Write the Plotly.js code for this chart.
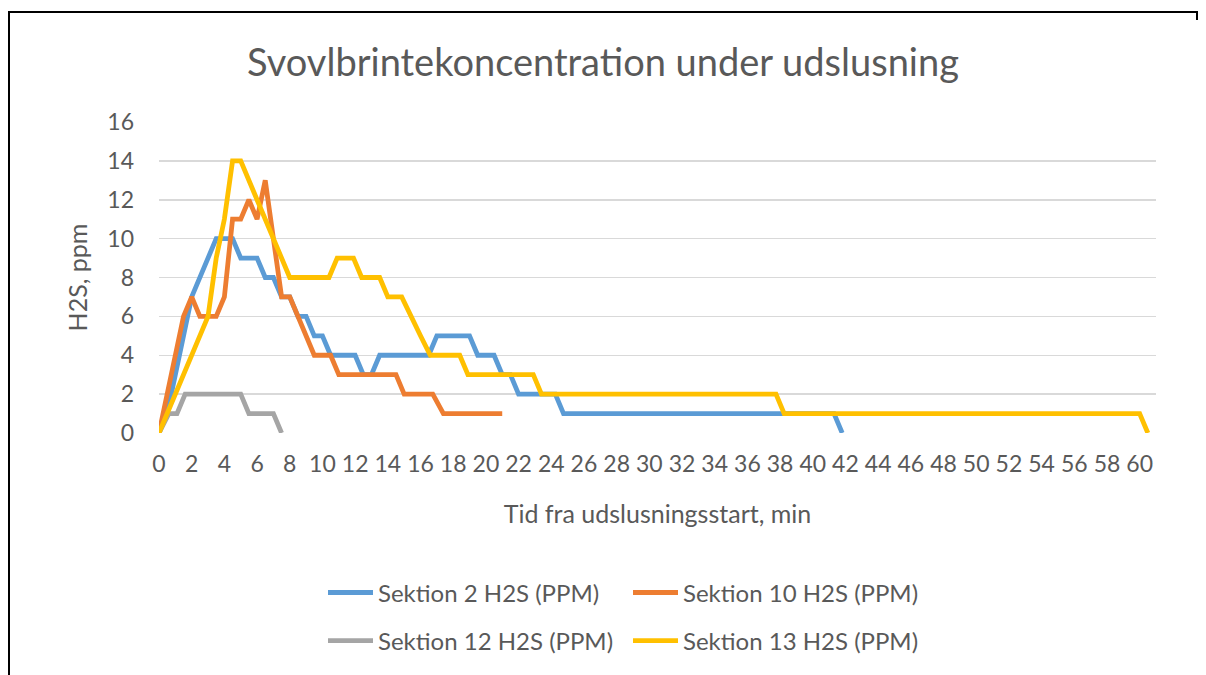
<!DOCTYPE html>
<html>
<head>
<meta charset="utf-8">
<script src="https://cdn.plot.ly/plotly-3.0.1.min.js"></script>
<style>
  html, body { margin: 0; padding: 0; background: #ffffff; }
  #wrap { position: relative; width: 1206px; height: 675px; overflow: hidden; }
  #chart { position: absolute; left: 0; top: 0; width: 1206px; height: 675px; }
  #frameTop { position: absolute; left: 8px; top: 11px; width: 1190px; height: 0;
              border-top: 2px solid #000; pointer-events: none; }
  #frameLeft { position: absolute; left: 8px; top: 11px; width: 0; height: 700px;
               border-left: 2px solid #000; pointer-events: none; }
  #frameRight { position: absolute; left: 1196px; top: 11px; width: 0; height: 9px;
                border-left: 2px solid #000; pointer-events: none; }
</style>
</head>
<body>
<div id="wrap">
  <div id="chart"></div>
  <div id="frameTop"></div>
  <div id="frameLeft"></div>
  <div id="frameRight"></div>
</div>
<script>
// ---- data ----
var seriesNames = ["Sektion 2 H2S (PPM)", "Sektion 10 H2S (PPM)", "Sektion 12 H2S (PPM)", "Sektion 13 H2S (PPM)"];

var s2Time = [0,0.5,1,1.5,2,3.5,4.5,5,6,6.5,7,7.5,8,8.5,9,9.5,10,10.5,12,12.5,13,13.5,16.5,17,19,19.5,20.5,21,21.5,22,24.25,24.75,41.3,41.8];
var s2Ppm  = [0,1,3,5,7,10,10,9,9,8,8,7,7,6,6,5,5,4,4,3,3,4,4,5,5,4,4,3,3,2,2,1,1,0];

var s10Time = [0,0.5,1,1.5,2,2.5,3.5,4,4.5,5,5.5,6,6.5,7,7.5,8,8.5,9,9.5,10.5,11,14.5,15,16.75,17.4,21];
var s10Ppm  = [0,2,4,6,7,6,6,7,11,11,12,11,13,10,7,7,6,5,4,4,3,3,2,2,1,1];

var s12Time = [0,0.6,1.1,1.6,5,5.5,7,7.5];
var s12Ppm  = [0,1,1,2,2,1,1,0];

var s13Time = [0,0.5,1,1.5,2,2.5,3,3.5,4,4.5,5,8,10.4,10.9,11.9,12.4,13.5,14,14.85,16,16.6,18.4,18.9,22.9,23.4,37.75,38.25,60,60.5];
var s13Ppm  = [0,1,2,3,4,5,6,9,11,14,14,8,8,9,9,8,8,7,7,5,4,4,3,3,2,2,1,1,0];

var xTickVals = [];
for (var k = 0; k <= 60; k += 2) xTickVals.push(k);
var yTickVals = [0,2,4,6,8,10,12,14,16];

var colors = ["#5B9BD5", "#ED7D31", "#A5A5A5", "#FFC000"];
var textColor = "#595959";
var fontFam = "Lato, 'Open Sans', sans-serif";

function mk(x, y, i, leg) {
  return {
    x: x, y: y, name: seriesNames[i], type: "scatter", mode: "lines",
    line: { color: colors[i], width: 4.8, shape: "linear" },
    legend: leg, hoverinfo: "x+y+name"
  };
}

var traces = [
  mk(s2Time, s2Ppm, 0, "legend"),
  mk(s10Time, s10Ppm, 1, "legend"),
  mk(s12Time, s12Ppm, 2, "legend2"),
  mk(s13Time, s13Ppm, 3, "legend2")
];

var legendCommon = {
  orientation: "h", xanchor: "left", yanchor: "middle",
  font: { family: fontFam, size: 24, color: textColor },
  itemwidth: 45,
  entrywidth: 245, entrywidthmode: "pixels",
  bgcolor: "rgba(0,0,0,0)", itemclick: false, itemdoubleclick: false,
  tracegroupgap: 0
};

var layout = {
  width: 1206, height: 675,
  margin: { l: 159, r: 50, t: 122, b: 236 },
  paper_bgcolor: "#ffffff", plot_bgcolor: "#ffffff",
  font: { family: fontFam, color: textColor },
  title: {
    text: "Svovlbrintekoncentration under udslusning",
    font: { family: fontFam, size: 38, color: textColor },
    x: 0.5, xanchor: "center", xref: "container",
    y: 1 - 63 / 675, yref: "container", yanchor: "middle"
  },
  xaxis: {
    range: [0, 61], tickmode: "array", tickvals: xTickVals,
    ticktext: xTickVals.map(String),
    showgrid: false, zeroline: false, showline: false, ticks: "",
    tickfont: { family: fontFam, size: 23, color: textColor },
    ticklabelstandoff: 15,
    title: { text: "Tid fra udslusningsstart, min", font: { family: fontFam, size: 25, color: textColor }, standoff: 29 },
    fixedrange: true
  },
  yaxis: {
    range: [0, 16], tickmode: "array", tickvals: yTickVals,
    showgrid: true, gridcolor: "#D9D9D9", gridwidth: 1.5,
    zeroline: false, showline: false, ticks: "",
    tickfont: { family: fontFam, size: 23, color: textColor },
    ticklabelstandoff: 24,
    title: { text: "H2S, ppm", font: { family: fontFam, size: 25, color: textColor }, standoff: 12 },
    fixedrange: true
  },
  legend: Object.assign({}, legendCommon, { x: (323 - 159) / 997, y: (439 - 602) / 317 }),
  legend2: Object.assign({}, legendCommon, { x: (323 - 159) / 997, y: (439 - 651) / 317 }),
  showlegend: true
};

Plotly.newPlot("chart", traces, layout, { displayModeBar: false, staticPlot: true });
</script>
</body>
</html>
